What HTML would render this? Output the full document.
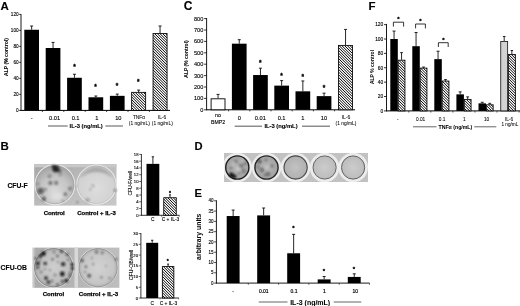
<!DOCTYPE html>
<html><head><meta charset="utf-8"><title>Figure</title>
<style>html,body{margin:0;padding:0;background:#fff}svg{display:block}text{font-family:"Liberation Sans",Arial,sans-serif}</style>
</head><body>
<svg width="520" height="306" viewBox="0 0 520 306">
<defs>
<pattern id="h" width="1.66" height="1.66" patternUnits="userSpaceOnUse" patternTransform="rotate(45)"><rect width="1.66" height="1.66" fill="#fff"/><rect width="1.66" height="0.85" fill="#000"/></pattern>
<filter id="b1" x="-5%" y="-5%" width="110%" height="110%"><feGaussianBlur stdDeviation="0.55"/></filter>
<filter id="b2" x="-5%" y="-5%" width="110%" height="110%"><feGaussianBlur stdDeviation="1.05"/></filter>
<filter id="b3" x="-20%" y="-20%" width="140%" height="140%"><feGaussianBlur stdDeviation="2"/></filter>
<filter id="hs"><feGaussianBlur stdDeviation="0.15"/></filter>
<filter id="soft"><feGaussianBlur stdDeviation="0.28"/></filter>
<linearGradient id="bg1" x1="0" y1="0" x2="1" y2="1"><stop offset="0" stop-color="#a6a6a6"/><stop offset="0.5" stop-color="#bcbcbc"/><stop offset="1" stop-color="#c8c8c8"/></linearGradient>
<linearGradient id="bg2" x1="0" y1="0" x2="1" y2="0"><stop offset="0" stop-color="#dcdcdc"/><stop offset="0.04" stop-color="#acacac"/><stop offset="1" stop-color="#bebebe"/></linearGradient>
<radialGradient id="d1" cx="0.5" cy="0.65" r="0.62"><stop offset="0" stop-color="#d8d8d8"/><stop offset="0.6" stop-color="#c4c4c4"/><stop offset="1" stop-color="#a4a4a4"/></radialGradient>
<radialGradient id="d2" cx="0.5" cy="0.6" r="0.6"><stop offset="0" stop-color="#dddddd"/><stop offset="0.8" stop-color="#d2d2d2"/><stop offset="1" stop-color="#bababa"/></radialGradient>
<radialGradient id="d3" cx="0.5" cy="0.5" r="0.55"><stop offset="0" stop-color="#cecece"/><stop offset="0.75" stop-color="#bebebe"/><stop offset="1" stop-color="#989898"/></radialGradient>
<radialGradient id="d4" cx="0.5" cy="0.5" r="0.55"><stop offset="0" stop-color="#d2d2d2"/><stop offset="0.75" stop-color="#c6c6c6"/><stop offset="1" stop-color="#a6a6a6"/></radialGradient>
<radialGradient id="w1" cx="0.5" cy="0.5" r="0.5"><stop offset="0" stop-color="#b8b8b8"/><stop offset="1" stop-color="#a2a2a2"/></radialGradient>
<radialGradient id="w3" cx="0.5" cy="0.5" r="0.5"><stop offset="0" stop-color="#c2c2c2"/><stop offset="1" stop-color="#b0b0b0"/></radialGradient>
<radialGradient id="w4" cx="0.5" cy="0.5" r="0.5"><stop offset="0" stop-color="#cccccc"/><stop offset="1" stop-color="#bcbcbc"/></radialGradient>
</defs>
<rect width="520" height="306" fill="#fff"/>
<g filter="url(#soft)">
<text x="0.6" y="10.3" font-size="11.5" font-weight="bold" text-anchor="start" fill="#000" stroke="#000" stroke-width="0.12">A</text>
<line x1="21.00" y1="14.10" x2="21.00" y2="110.80" stroke="#000" stroke-width="0.9"/>
<line x1="19.20" y1="110.40" x2="21.00" y2="110.40" stroke="#000" stroke-width="0.8"/>
<text x="18.7" y="112.092" font-size="4.7" text-anchor="end" fill="#000" stroke="#000" stroke-width="0.12">0</text>
<line x1="19.20" y1="94.40" x2="21.00" y2="94.40" stroke="#000" stroke-width="0.8"/>
<text x="18.7" y="96.092" font-size="4.7" text-anchor="end" fill="#000" stroke="#000" stroke-width="0.12">20</text>
<line x1="19.20" y1="78.40" x2="21.00" y2="78.40" stroke="#000" stroke-width="0.8"/>
<text x="18.7" y="80.092" font-size="4.7" text-anchor="end" fill="#000" stroke="#000" stroke-width="0.12">40</text>
<line x1="19.20" y1="62.40" x2="21.00" y2="62.40" stroke="#000" stroke-width="0.8"/>
<text x="18.7" y="64.092" font-size="4.7" text-anchor="end" fill="#000" stroke="#000" stroke-width="0.12">60</text>
<line x1="19.20" y1="46.40" x2="21.00" y2="46.40" stroke="#000" stroke-width="0.8"/>
<text x="18.7" y="48.092000000000006" font-size="4.7" text-anchor="end" fill="#000" stroke="#000" stroke-width="0.12">80</text>
<line x1="19.20" y1="30.40" x2="21.00" y2="30.40" stroke="#000" stroke-width="0.8"/>
<text x="18.7" y="32.092000000000006" font-size="4.7" text-anchor="end" fill="#000" stroke="#000" stroke-width="0.12">100</text>
<line x1="19.20" y1="14.40" x2="21.00" y2="14.40" stroke="#000" stroke-width="0.8"/>
<text x="18.7" y="16.092000000000006" font-size="4.7" text-anchor="end" fill="#000" stroke="#000" stroke-width="0.12">120</text>
<line x1="20.60" y1="110.40" x2="170.00" y2="110.40" stroke="#000" stroke-width="1.0"/>
<text x="7.8" y="57" font-size="5.05" font-weight="bold" text-anchor="middle" transform="rotate(-90 7.8 57)" fill="#000" stroke="#000" stroke-width="0.05">ALP (% control)</text>
<line x1="31.65" y1="29.76" x2="31.65" y2="26.00" stroke="#000" stroke-width="0.85"/>
<line x1="30.15" y1="26.00" x2="33.15" y2="26.00" stroke="#000" stroke-width="0.85"/>
<rect x="24.30" y="29.76" width="14.70" height="80.64" fill="#000"/>
<line x1="53.05" y1="48.00" x2="53.05" y2="42.40" stroke="#000" stroke-width="0.85"/>
<line x1="51.55" y1="42.40" x2="54.55" y2="42.40" stroke="#000" stroke-width="0.85"/>
<rect x="45.70" y="48.00" width="14.70" height="62.40" fill="#000"/>
<line x1="74.45" y1="77.76" x2="74.45" y2="74.24" stroke="#000" stroke-width="0.85"/>
<line x1="72.95" y1="74.24" x2="75.95" y2="74.24" stroke="#000" stroke-width="0.85"/>
<rect x="67.10" y="77.76" width="14.70" height="32.64" fill="#000"/>
<line x1="95.85" y1="97.28" x2="95.85" y2="96.00" stroke="#000" stroke-width="0.85"/>
<line x1="94.35" y1="96.00" x2="97.35" y2="96.00" stroke="#000" stroke-width="0.85"/>
<rect x="88.50" y="97.28" width="14.70" height="13.12" fill="#000"/>
<line x1="117.25" y1="95.84" x2="117.25" y2="94.08" stroke="#000" stroke-width="0.85"/>
<line x1="115.75" y1="94.08" x2="118.75" y2="94.08" stroke="#000" stroke-width="0.85"/>
<rect x="109.90" y="95.84" width="14.70" height="14.56" fill="#000"/>
<line x1="138.65" y1="92.00" x2="138.65" y2="90.08" stroke="#000" stroke-width="0.85"/>
<line x1="137.15" y1="90.08" x2="140.15" y2="90.08" stroke="#000" stroke-width="0.85"/>
<line x1="160.05" y1="33.20" x2="160.05" y2="26.00" stroke="#000" stroke-width="0.85"/>
<line x1="158.55" y1="26.00" x2="161.55" y2="26.00" stroke="#000" stroke-width="0.85"/>
<text x="74.4" y="68.89999999999999" font-size="6.5" font-weight="bold" text-anchor="middle" fill="#000" stroke="#000" stroke-width="0.3">*</text>
<text x="95.6" y="89.3" font-size="6.5" font-weight="bold" text-anchor="middle" fill="#000" stroke="#000" stroke-width="0.3">*</text>
<text x="116.9" y="87.7" font-size="6.5" font-weight="bold" text-anchor="middle" fill="#000" stroke="#000" stroke-width="0.3">*</text>
<text x="138.3" y="84.1" font-size="6.5" font-weight="bold" text-anchor="middle" fill="#000" stroke="#000" stroke-width="0.3">*</text>
<text x="31.8" y="120" font-size="5.7" text-anchor="middle" fill="#000" stroke="#000" stroke-width="0.12">-</text>
<text x="54.6" y="120" font-size="5.7" text-anchor="middle" fill="#000" stroke="#000" stroke-width="0.12">0.01</text>
<text x="75.6" y="120" font-size="5.7" text-anchor="middle" fill="#000" stroke="#000" stroke-width="0.12">0.1</text>
<text x="96.9" y="120" font-size="5.7" text-anchor="middle" fill="#000" stroke="#000" stroke-width="0.12">1</text>
<text x="118.3" y="120" font-size="5.7" text-anchor="middle" fill="#000" stroke="#000" stroke-width="0.12">10</text>
<text x="139" y="119.3" font-size="4.8" text-anchor="middle" fill="#000" stroke="#000" stroke-width="0.05">TNFα</text>
<text x="162" y="119.3" font-size="4.8" text-anchor="middle" fill="#000" stroke="#000" stroke-width="0.05">IL-6</text>
<text x="139.3" y="125.1" font-size="4.9" text-anchor="middle" fill="#000" stroke="#000" stroke-width="0.05">(1 ng/mL)</text>
<text x="162.3" y="125.1" font-size="4.9" text-anchor="middle" fill="#000" stroke="#000" stroke-width="0.05">(1 ng/mL)</text>
<text x="86.2" y="128" font-size="5.8" font-weight="bold" text-anchor="middle" fill="#000" stroke="#000" stroke-width="0.12">IL-3 (ng/mL)</text>
<line x1="48.00" y1="126.00" x2="67.70" y2="126.00" stroke="#666" stroke-width="1.1"/>
<line x1="105.40" y1="126.00" x2="122.90" y2="126.00" stroke="#666" stroke-width="1.1"/>
<text x="183.8" y="10.4" font-size="12" font-weight="bold" text-anchor="start" fill="#000" stroke="#000" stroke-width="0.12">C</text>
<line x1="206.60" y1="18.00" x2="206.60" y2="110.20" stroke="#000" stroke-width="0.9"/>
<line x1="204.10" y1="109.80" x2="206.60" y2="109.80" stroke="#000" stroke-width="0.8"/>
<text x="203.29999999999998" y="111.816" font-size="5.6" text-anchor="end" fill="#000" stroke="#000" stroke-width="0.12">0</text>
<line x1="204.10" y1="98.40" x2="206.60" y2="98.40" stroke="#000" stroke-width="0.8"/>
<text x="203.29999999999998" y="100.416" font-size="5.6" text-anchor="end" fill="#000" stroke="#000" stroke-width="0.12">100</text>
<line x1="204.10" y1="87.00" x2="206.60" y2="87.00" stroke="#000" stroke-width="0.8"/>
<text x="203.29999999999998" y="89.016" font-size="5.6" text-anchor="end" fill="#000" stroke="#000" stroke-width="0.12">200</text>
<line x1="204.10" y1="75.60" x2="206.60" y2="75.60" stroke="#000" stroke-width="0.8"/>
<text x="203.29999999999998" y="77.616" font-size="5.6" text-anchor="end" fill="#000" stroke="#000" stroke-width="0.12">300</text>
<line x1="204.10" y1="64.20" x2="206.60" y2="64.20" stroke="#000" stroke-width="0.8"/>
<text x="203.29999999999998" y="66.216" font-size="5.6" text-anchor="end" fill="#000" stroke="#000" stroke-width="0.12">400</text>
<line x1="204.10" y1="52.80" x2="206.60" y2="52.80" stroke="#000" stroke-width="0.8"/>
<text x="203.29999999999998" y="54.815999999999995" font-size="5.6" text-anchor="end" fill="#000" stroke="#000" stroke-width="0.12">500</text>
<line x1="204.10" y1="41.40" x2="206.60" y2="41.40" stroke="#000" stroke-width="0.8"/>
<text x="203.29999999999998" y="43.41599999999999" font-size="5.6" text-anchor="end" fill="#000" stroke="#000" stroke-width="0.12">600</text>
<line x1="204.10" y1="30.00" x2="206.60" y2="30.00" stroke="#000" stroke-width="0.8"/>
<text x="203.29999999999998" y="32.016" font-size="5.6" text-anchor="end" fill="#000" stroke="#000" stroke-width="0.12">700</text>
<line x1="204.10" y1="18.60" x2="206.60" y2="18.60" stroke="#000" stroke-width="0.8"/>
<text x="203.29999999999998" y="20.615999999999993" font-size="5.6" text-anchor="end" fill="#000" stroke="#000" stroke-width="0.12">800</text>
<line x1="206.20" y1="109.80" x2="355.00" y2="109.80" stroke="#000" stroke-width="1.0"/>
<text x="188" y="59" font-size="5.0" font-weight="bold" text-anchor="middle" transform="rotate(-90 188 59)" fill="#000" stroke="#000" stroke-width="0.05">ALP (% control)</text>
<line x1="218.05" y1="98.40" x2="218.05" y2="94.41" stroke="#000" stroke-width="0.85"/>
<line x1="216.55" y1="94.41" x2="219.55" y2="94.41" stroke="#000" stroke-width="0.85"/>
<rect x="211.10" y="98.80" width="13.90" height="11.00" fill="#fff" stroke="#000" stroke-width="0.9"/>
<line x1="239.25" y1="43.68" x2="239.25" y2="39.69" stroke="#000" stroke-width="0.85"/>
<line x1="237.75" y1="39.69" x2="240.75" y2="39.69" stroke="#000" stroke-width="0.85"/>
<rect x="231.90" y="43.68" width="14.70" height="66.12" fill="#000"/>
<line x1="260.45" y1="75.03" x2="260.45" y2="68.19" stroke="#000" stroke-width="0.85"/>
<line x1="258.95" y1="68.19" x2="261.95" y2="68.19" stroke="#000" stroke-width="0.85"/>
<rect x="253.10" y="75.03" width="14.70" height="34.77" fill="#000"/>
<line x1="281.65" y1="85.63" x2="281.65" y2="80.62" stroke="#000" stroke-width="0.85"/>
<line x1="280.15" y1="80.62" x2="283.15" y2="80.62" stroke="#000" stroke-width="0.85"/>
<rect x="274.30" y="85.63" width="14.70" height="24.17" fill="#000"/>
<line x1="302.85" y1="91.33" x2="302.85" y2="80.96" stroke="#000" stroke-width="0.85"/>
<line x1="301.35" y1="80.96" x2="304.35" y2="80.96" stroke="#000" stroke-width="0.85"/>
<rect x="295.50" y="91.33" width="14.70" height="18.47" fill="#000"/>
<line x1="324.05" y1="96.12" x2="324.05" y2="93.16" stroke="#000" stroke-width="0.85"/>
<line x1="322.55" y1="93.16" x2="325.55" y2="93.16" stroke="#000" stroke-width="0.85"/>
<rect x="316.70" y="96.12" width="14.70" height="13.68" fill="#000"/>
<line x1="345.55" y1="45.05" x2="345.55" y2="29.43" stroke="#000" stroke-width="0.85"/>
<line x1="344.05" y1="29.43" x2="347.05" y2="29.43" stroke="#000" stroke-width="0.85"/>
<text x="260.2" y="64.7" font-size="6.5" font-weight="bold" text-anchor="middle" fill="#000" stroke="#000" stroke-width="0.3">*</text>
<text x="281.6" y="77.6" font-size="6.5" font-weight="bold" text-anchor="middle" fill="#000" stroke="#000" stroke-width="0.3">*</text>
<text x="302.8" y="79.2" font-size="6.5" font-weight="bold" text-anchor="middle" fill="#000" stroke="#000" stroke-width="0.3">*</text>
<text x="324" y="90.39999999999999" font-size="6.5" font-weight="bold" text-anchor="middle" fill="#000" stroke="#000" stroke-width="0.3">*</text>
<text x="218" y="117.4" font-size="5.2" text-anchor="middle" fill="#000" stroke="#000" stroke-width="0.12">no</text>
<text x="218" y="123.6" font-size="5.2" text-anchor="middle" fill="#000" stroke="#000" stroke-width="0.12">BMP2</text>
<text x="239.3" y="120" font-size="5.7" text-anchor="middle" fill="#000" stroke="#000" stroke-width="0.12">0</text>
<text x="260.4" y="120" font-size="5.7" text-anchor="middle" fill="#000" stroke="#000" stroke-width="0.12">0.01</text>
<text x="281.6" y="120" font-size="5.7" text-anchor="middle" fill="#000" stroke="#000" stroke-width="0.12">0.1</text>
<text x="302.8" y="120" font-size="5.7" text-anchor="middle" fill="#000" stroke="#000" stroke-width="0.12">1</text>
<text x="324" y="120" font-size="5.7" text-anchor="middle" fill="#000" stroke="#000" stroke-width="0.12">10</text>
<text x="346" y="119.0" font-size="5.0" text-anchor="middle" fill="#000" stroke="#000" stroke-width="0.05">IL-6</text>
<text x="346" y="124.9" font-size="4.9" text-anchor="middle" fill="#000" stroke="#000" stroke-width="0.05">(1 ng/mL)</text>
<text x="281" y="128.2" font-size="5.8" font-weight="bold" text-anchor="middle" fill="#000" stroke="#000" stroke-width="0.12">IL-3 (ng/mL)</text>
<line x1="234.70" y1="126.20" x2="262.00" y2="126.20" stroke="#666" stroke-width="1.1"/>
<line x1="302.00" y1="126.20" x2="330.00" y2="126.20" stroke="#666" stroke-width="1.1"/>
<text x="368.4" y="10.3" font-size="11.5" font-weight="bold" text-anchor="start" fill="#000" stroke="#000" stroke-width="0.12">F</text>
<line x1="386.50" y1="23.90" x2="386.50" y2="111.30" stroke="#000" stroke-width="0.9"/>
<line x1="384.00" y1="110.90" x2="386.50" y2="110.90" stroke="#000" stroke-width="0.8"/>
<text x="383.3" y="112.664" font-size="4.9" text-anchor="end" fill="#000" stroke="#000" stroke-width="0.12">0</text>
<line x1="384.00" y1="96.52" x2="386.50" y2="96.52" stroke="#000" stroke-width="0.8"/>
<text x="383.3" y="98.284" font-size="4.9" text-anchor="end" fill="#000" stroke="#000" stroke-width="0.12">20</text>
<line x1="384.00" y1="82.14" x2="386.50" y2="82.14" stroke="#000" stroke-width="0.8"/>
<text x="383.3" y="83.904" font-size="4.9" text-anchor="end" fill="#000" stroke="#000" stroke-width="0.12">40</text>
<line x1="384.00" y1="67.76" x2="386.50" y2="67.76" stroke="#000" stroke-width="0.8"/>
<text x="383.3" y="69.52399999999999" font-size="4.9" text-anchor="end" fill="#000" stroke="#000" stroke-width="0.12">60</text>
<line x1="384.00" y1="53.38" x2="386.50" y2="53.38" stroke="#000" stroke-width="0.8"/>
<text x="383.3" y="55.144" font-size="4.9" text-anchor="end" fill="#000" stroke="#000" stroke-width="0.12">80</text>
<line x1="384.00" y1="39.00" x2="386.50" y2="39.00" stroke="#000" stroke-width="0.8"/>
<text x="383.3" y="40.764" font-size="4.9" text-anchor="end" fill="#000" stroke="#000" stroke-width="0.12">100</text>
<line x1="384.00" y1="24.62" x2="386.50" y2="24.62" stroke="#000" stroke-width="0.8"/>
<text x="383.3" y="26.38399999999999" font-size="4.9" text-anchor="end" fill="#000" stroke="#000" stroke-width="0.12">120</text>
<line x1="386.10" y1="110.90" x2="520.00" y2="110.90" stroke="#000" stroke-width="1.0"/>
<text x="374" y="67" font-size="5.0" font-weight="bold" text-anchor="middle" transform="rotate(-90 374 67)" fill="#000">ALP % control</text>
<line x1="394.05" y1="39.00" x2="394.05" y2="31.09" stroke="#000" stroke-width="0.85"/>
<line x1="392.55" y1="31.09" x2="395.55" y2="31.09" stroke="#000" stroke-width="0.85"/>
<rect x="390.30" y="39.00" width="7.50" height="71.90" fill="#000"/>
<line x1="401.55" y1="59.85" x2="401.55" y2="52.66" stroke="#000" stroke-width="0.85"/>
<line x1="400.15" y1="52.66" x2="402.95" y2="52.66" stroke="#000" stroke-width="0.85"/>
<line x1="416.05" y1="46.19" x2="416.05" y2="32.53" stroke="#000" stroke-width="0.85"/>
<line x1="414.55" y1="32.53" x2="417.55" y2="32.53" stroke="#000" stroke-width="0.85"/>
<rect x="412.30" y="46.19" width="7.50" height="64.71" fill="#000"/>
<line x1="423.55" y1="67.76" x2="423.55" y2="67.04" stroke="#000" stroke-width="0.85"/>
<line x1="422.15" y1="67.04" x2="424.95" y2="67.04" stroke="#000" stroke-width="0.85"/>
<line x1="438.05" y1="59.13" x2="438.05" y2="51.22" stroke="#000" stroke-width="0.85"/>
<line x1="436.55" y1="51.22" x2="439.55" y2="51.22" stroke="#000" stroke-width="0.85"/>
<rect x="434.30" y="59.13" width="7.50" height="51.77" fill="#000"/>
<line x1="445.55" y1="80.70" x2="445.55" y2="79.62" stroke="#000" stroke-width="0.85"/>
<line x1="444.15" y1="79.62" x2="446.95" y2="79.62" stroke="#000" stroke-width="0.85"/>
<line x1="460.15" y1="94.36" x2="460.15" y2="91.85" stroke="#000" stroke-width="0.85"/>
<line x1="458.65" y1="91.85" x2="461.65" y2="91.85" stroke="#000" stroke-width="0.85"/>
<rect x="456.40" y="94.36" width="7.50" height="16.54" fill="#000"/>
<line x1="467.65" y1="99.04" x2="467.65" y2="96.88" stroke="#000" stroke-width="0.85"/>
<line x1="466.25" y1="96.88" x2="469.05" y2="96.88" stroke="#000" stroke-width="0.85"/>
<line x1="482.25" y1="103.35" x2="482.25" y2="102.27" stroke="#000" stroke-width="0.85"/>
<line x1="480.75" y1="102.27" x2="483.75" y2="102.27" stroke="#000" stroke-width="0.85"/>
<rect x="478.50" y="103.35" width="7.50" height="7.55" fill="#000"/>
<line x1="489.75" y1="104.43" x2="489.75" y2="103.35" stroke="#000" stroke-width="0.85"/>
<line x1="488.35" y1="103.35" x2="491.15" y2="103.35" stroke="#000" stroke-width="0.85"/>
<line x1="504.20" y1="41.16" x2="504.20" y2="36.48" stroke="#000" stroke-width="0.85"/>
<line x1="502.90" y1="36.48" x2="505.50" y2="36.48" stroke="#000" stroke-width="0.85"/>
<rect x="500.75" y="41.51" width="6.90" height="69.39" fill="#d2d2d2" stroke="#111" stroke-width="0.8"/>
<line x1="511.85" y1="54.10" x2="511.85" y2="50.50" stroke="#000" stroke-width="0.85"/>
<line x1="510.65" y1="50.50" x2="513.05" y2="50.50" stroke="#000" stroke-width="0.85"/>
<path d="M393.4 26.6V22.2H403.6V26.6" fill="none" stroke="#000" stroke-width="0.8"/>
<text x="398.5" y="21.2" font-size="6" font-weight="bold" text-anchor="middle" fill="#000" stroke="#000" stroke-width="0.3">*</text>
<path d="M415.6 28.4V24H425.4V28.4" fill="none" stroke="#000" stroke-width="0.8"/>
<text x="420.5" y="23.400000000000002" font-size="6" font-weight="bold" text-anchor="middle" fill="#000" stroke="#000" stroke-width="0.3">*</text>
<path d="M438.4 47V42.7H448.2V47" fill="none" stroke="#000" stroke-width="0.8"/>
<text x="443.3" y="41.99999999999999" font-size="6" font-weight="bold" text-anchor="middle" fill="#000" stroke="#000" stroke-width="0.3">*</text>
<text x="397.8" y="120.8" font-size="4.8" text-anchor="middle" fill="#000" stroke="#000" stroke-width="0.06">-</text>
<text x="420.6" y="120.8" font-size="4.8" text-anchor="middle" fill="#000" stroke="#000" stroke-width="0.06">0.01</text>
<text x="442.2" y="120.8" font-size="4.8" text-anchor="middle" fill="#000" stroke="#000" stroke-width="0.06">0.1</text>
<text x="464.4" y="120.8" font-size="4.8" text-anchor="middle" fill="#000" stroke="#000" stroke-width="0.06">1</text>
<text x="486.6" y="120.8" font-size="4.8" text-anchor="middle" fill="#000" stroke="#000" stroke-width="0.06">10</text>
<text x="509" y="120.6" font-size="4.8" text-anchor="middle" fill="#000" stroke="#000" stroke-width="0.05">IL-6</text>
<text x="509.9" y="125.6" font-size="4.7" text-anchor="middle" fill="#000" stroke="#000" stroke-width="0.05">1 ng/mL</text>
<text x="455.4" y="128.5" font-size="5.2" font-weight="bold" text-anchor="middle" fill="#000" stroke="#000" stroke-width="0.05">TNFα  (ng/mL)</text>
<line x1="413.00" y1="126.80" x2="436.50" y2="126.80" stroke="#555" stroke-width="0.9"/>
<line x1="474.20" y1="126.80" x2="496.30" y2="126.80" stroke="#555" stroke-width="0.9"/>
<text x="0.4" y="149.5" font-size="11.5" font-weight="bold" text-anchor="start" fill="#000" stroke="#000" stroke-width="0.12">B</text>
<text x="7.4" y="188" font-size="6.8" font-weight="bold" text-anchor="start" fill="#000" stroke="#000" stroke-width="0.12">CFU-F</text>
<text x="0.6" y="269.8" font-size="6.8" font-weight="bold" text-anchor="start" fill="#000" stroke="#000" stroke-width="0.12">CFU-OB</text>
<text x="54.2" y="214.7" font-size="5.95" font-weight="bold" text-anchor="middle" fill="#000" stroke="#000" stroke-width="0.25">Control</text>
<text x="96.5" y="214.7" font-size="5.95" font-weight="bold" text-anchor="middle" fill="#000" stroke="#000" stroke-width="0.25">Control + IL-3</text>
<text x="53.4" y="295.9" font-size="6.0" font-weight="bold" text-anchor="middle" fill="#000" stroke="#000" stroke-width="0.25">Control</text>
<text x="98.5" y="295.9" font-size="6.1" font-weight="bold" text-anchor="middle" fill="#000" stroke="#000" stroke-width="0.25">Control + IL-3</text>
<g filter="url(#b1)">
<rect x="34.20" y="164.20" width="82.30" height="41.40" fill="url(#bg1)"/>
<rect x="34.20" y="164.30" width="82.30" height="3.00" fill="#c8c8c8"/>
<circle cx="54.9" cy="184.7" r="20.4" fill="#eeeeee"/><circle cx="54.9" cy="184.7" r="19.1" fill="url(#d1)" stroke="#989898" stroke-width="0.7"/>
<circle cx="96.5" cy="184.7" r="20.1" fill="#eeeeee"/><circle cx="96.5" cy="184.7" r="18.9" fill="url(#d2)" stroke="#b4b4b4" stroke-width="0.6"/>
<path d="M80.5 178 A17.5 17.5 0 0 1 112.5 178 A24 24 0 0 0 80.5 178Z" fill="#9c9c9c" opacity="0.75" filter="url(#b2)"/>
</g>
<g filter="url(#b2)">
<circle cx="55.8" cy="168.8" r="3.4" fill="#1c1c1c" opacity="0.95"/>
<circle cx="53.6" cy="166.8" r="2" fill="#1c1c1c" opacity="0.8"/>
<circle cx="59.5" cy="171" r="2" fill="#1c1c1c" opacity="0.5"/>
<circle cx="40.6" cy="191" r="3.2" fill="#1c1c1c" opacity="0.6"/>
<circle cx="43.9" cy="198.9" r="2.4" fill="#1c1c1c" opacity="0.55"/>
<circle cx="50.4" cy="182.9" r="2" fill="#1c1c1c" opacity="0.55"/>
<circle cx="56.1" cy="182.9" r="2" fill="#1c1c1c" opacity="0.5"/>
<circle cx="49.6" cy="176.3" r="1.8" fill="#1c1c1c" opacity="0.4"/>
<circle cx="65.1" cy="194.3" r="2.1" fill="#1c1c1c" opacity="0.5"/>
<circle cx="70" cy="188.6" r="1.9" fill="#1c1c1c" opacity="0.45"/>
<circle cx="60.2" cy="174.7" r="1.5" fill="#1c1c1c" opacity="0.3"/>
<circle cx="62.7" cy="200.5" r="1.5" fill="#1c1c1c" opacity="0.3"/>
<circle cx="45.5" cy="189.4" r="1.5" fill="#1c1c1c" opacity="0.4"/>
<circle cx="38" cy="184" r="1.5" fill="#1c1c1c" opacity="0.3"/>
<circle cx="92.9" cy="185.8" r="1.4" fill="#1c1c1c" opacity="0.3"/>
<circle cx="90.3" cy="189.4" r="1.2" fill="#1c1c1c" opacity="0.25"/>
<circle cx="87.5" cy="200" r="2" fill="#1c1c1c" opacity="0.3"/>
<circle cx="115.3" cy="190.2" r="1.3" fill="#1c1c1c" opacity="0.6"/>
<circle cx="77.4" cy="202.2" r="0.8" fill="#1c1c1c" opacity="0.8"/>
<circle cx="76" cy="186" r="0.8" fill="#1c1c1c" opacity="0.5"/>
<ellipse cx="57" cy="197" rx="7" ry="4" fill="#f4f4f4" opacity="0.5" filter="url(#b3)"/>
</g>
<g filter="url(#b1)">
<rect x="32.20" y="247.60" width="87.20" height="40.20" fill="url(#bg2)"/>
<rect x="74.50" y="247.60" width="3.50" height="40.20" fill="#d8d8d8"/>
<circle cx="53.7" cy="267.7" r="20.2" fill="#e6e6e6"/><circle cx="53.7" cy="267.7" r="19.2" fill="url(#d3)" stroke="#808080" stroke-width="0.9"/>
<circle cx="98.1" cy="267.7" r="20.0" fill="#e4e4e4"/><circle cx="98.1" cy="267.7" r="19.1" fill="url(#d4)" stroke="#909090" stroke-width="0.9"/>
</g>
<g filter="url(#b2)">
<circle cx="43.5" cy="253.6" r="2.3" fill="#101010" opacity="1.00"/>
<circle cx="40.3" cy="256" r="1.8" fill="#101010" opacity="0.94"/>
<circle cx="37.8" cy="263.4" r="1.9" fill="#101010" opacity="0.94"/>
<circle cx="37.8" cy="267.5" r="1.5" fill="#101010" opacity="0.75"/>
<circle cx="45.2" cy="263.4" r="1.7" fill="#101010" opacity="0.88"/>
<circle cx="61.5" cy="251.2" r="1.5" fill="#101010" opacity="0.81"/>
<circle cx="67.2" cy="254.4" r="1.4" fill="#101010" opacity="0.62"/>
<circle cx="63.1" cy="264.2" r="2.1" fill="#101010" opacity="0.88"/>
<circle cx="72.1" cy="264.5" r="1.5" fill="#101010" opacity="1.00"/>
<circle cx="72.3" cy="268.5" r="1.4" fill="#101010" opacity="1.00"/>
<circle cx="62.3" cy="274" r="2.4" fill="#101010" opacity="0.94"/>
<circle cx="66.4" cy="280.6" r="1.8" fill="#101010" opacity="1.00"/>
<circle cx="62.3" cy="281.4" r="1.4" fill="#101010" opacity="0.75"/>
<circle cx="46" cy="278.1" r="1.8" fill="#101010" opacity="0.94"/>
<circle cx="48.4" cy="282.2" r="1.6" fill="#101010" opacity="0.94"/>
<circle cx="52.5" cy="259.3" r="1.2" fill="#101010" opacity="0.50"/>
<circle cx="57.4" cy="256" r="1.3" fill="#101010" opacity="0.56"/>
<circle cx="55" cy="275" r="1.3" fill="#101010" opacity="0.44"/>
<circle cx="35.8" cy="258.5" r="1.2" fill="#101010" opacity="0.75"/>
<circle cx="69.5" cy="276" r="1.2" fill="#101010" opacity="0.62"/>
<circle cx="57.5" cy="284.5" r="1.2" fill="#101010" opacity="0.62"/>
<circle cx="50" cy="270" r="1" fill="#101010" opacity="0.38"/>
<circle cx="41" cy="272" r="1.2" fill="#101010" opacity="0.50"/>
<circle cx="58" cy="262" r="1.0" fill="#101010" opacity="0.38"/>
<circle cx="68" cy="260" r="1.1" fill="#101010" opacity="0.50"/>
<circle cx="54" cy="252" r="1.2" fill="#101010" opacity="0.50"/>
<circle cx="40" cy="260" r="1.0" fill="#101010" opacity="0.62"/>
<circle cx="52" cy="281" r="1.2" fill="#101010" opacity="0.56"/>
<circle cx="70" cy="273" r="1.2" fill="#101010" opacity="0.62"/>
<circle cx="45" cy="269" r="1.0" fill="#101010" opacity="0.38"/>
<circle cx="82.1" cy="260.6" r="1.5" fill="#101010" opacity="0.75"/>
<circle cx="85.9" cy="266.7" r="1.2" fill="#101010" opacity="0.56"/>
<circle cx="89.2" cy="275.7" r="1.7" fill="#101010" opacity="0.75"/>
<circle cx="93.2" cy="264.2" r="1.1" fill="#101010" opacity="0.38"/>
<circle cx="96.5" cy="252" r="1.7" fill="#101010" opacity="0.50"/>
<circle cx="102.2" cy="252.8" r="1.5" fill="#101010" opacity="0.44"/>
<circle cx="85" cy="272" r="1.0" fill="#101010" opacity="0.44"/>
<circle cx="101.4" cy="277.3" r="1.2" fill="#101010" opacity="0.38"/>
<circle cx="109.6" cy="278.1" r="1.2" fill="#101010" opacity="0.38"/>
<circle cx="116.1" cy="259.3" r="1.0" fill="#101010" opacity="0.88"/>
<circle cx="92" cy="258" r="1" fill="#101010" opacity="0.38"/>
<circle cx="106" cy="266" r="0.9" fill="#101010" opacity="0.31"/>
</g>
<line x1="141.40" y1="154.00" x2="141.40" y2="215.60" stroke="#000" stroke-width="0.8"/>
<line x1="141.10" y1="215.30" x2="179.50" y2="215.30" stroke="#000" stroke-width="0.8"/>
<line x1="139.20" y1="215.30" x2="141.40" y2="215.30" stroke="#000" stroke-width="0.6"/>
<text x="138.5" y="216.8" font-size="4.2" text-anchor="end" fill="#000" stroke="#000" stroke-width="0.12">0</text>
<line x1="139.20" y1="208.53" x2="141.40" y2="208.53" stroke="#000" stroke-width="0.6"/>
<text x="138.5" y="210.03333333333333" font-size="4.2" text-anchor="end" fill="#000" stroke="#000" stroke-width="0.12">2</text>
<line x1="139.20" y1="201.77" x2="141.40" y2="201.77" stroke="#000" stroke-width="0.6"/>
<text x="138.5" y="203.26666666666668" font-size="4.2" text-anchor="end" fill="#000" stroke="#000" stroke-width="0.12">4</text>
<line x1="139.20" y1="195.00" x2="141.40" y2="195.00" stroke="#000" stroke-width="0.6"/>
<text x="138.5" y="196.5" font-size="4.2" text-anchor="end" fill="#000" stroke="#000" stroke-width="0.12">6</text>
<line x1="139.20" y1="188.23" x2="141.40" y2="188.23" stroke="#000" stroke-width="0.6"/>
<text x="138.5" y="189.73333333333335" font-size="4.2" text-anchor="end" fill="#000" stroke="#000" stroke-width="0.12">8</text>
<line x1="139.20" y1="181.47" x2="141.40" y2="181.47" stroke="#000" stroke-width="0.6"/>
<text x="138.5" y="182.96666666666667" font-size="4.2" text-anchor="end" fill="#000" stroke="#000" stroke-width="0.12">10</text>
<line x1="139.20" y1="174.70" x2="141.40" y2="174.70" stroke="#000" stroke-width="0.6"/>
<text x="138.5" y="176.20000000000002" font-size="4.2" text-anchor="end" fill="#000" stroke="#000" stroke-width="0.12">12</text>
<line x1="139.20" y1="167.93" x2="141.40" y2="167.93" stroke="#000" stroke-width="0.6"/>
<text x="138.5" y="169.43333333333334" font-size="4.2" text-anchor="end" fill="#000" stroke="#000" stroke-width="0.12">14</text>
<line x1="139.20" y1="161.17" x2="141.40" y2="161.17" stroke="#000" stroke-width="0.6"/>
<text x="138.5" y="162.66666666666669" font-size="4.2" text-anchor="end" fill="#000" stroke="#000" stroke-width="0.12">16</text>
<line x1="139.20" y1="154.40" x2="141.40" y2="154.40" stroke="#000" stroke-width="0.6"/>
<text x="138.5" y="155.9" font-size="4.2" text-anchor="end" fill="#000" stroke="#000" stroke-width="0.12">18</text>
<text x="132.2" y="183.2" font-size="4.9" text-anchor="middle" transform="rotate(-90 132.2 183.2)" fill="#000" stroke="#000" stroke-width="0.12">CFU-F/well</text>
<line x1="152.90" y1="163.87" x2="152.90" y2="156.77" stroke="#000" stroke-width="0.85"/>
<line x1="151.70" y1="156.77" x2="154.10" y2="156.77" stroke="#000" stroke-width="0.85"/>
<rect x="146.50" y="163.87" width="12.80" height="51.43" fill="#000"/>
<line x1="170.00" y1="197.37" x2="170.00" y2="194.83" stroke="#000" stroke-width="0.85"/>
<line x1="169.00" y1="194.83" x2="171.00" y2="194.83" stroke="#000" stroke-width="0.85"/>
<text x="170.1" y="195.4" font-size="5" font-weight="bold" text-anchor="middle" fill="#000" stroke="#000" stroke-width="0.3">*</text>
<text x="152.7" y="221.1" font-size="4.9" text-anchor="middle" fill="#000" stroke="#000" stroke-width="0.12">C</text>
<text x="170.5" y="221.1" font-size="4.9" text-anchor="middle" fill="#000" stroke="#000" stroke-width="0.12">C + IL-3</text>
<line x1="140.90" y1="233.00" x2="140.90" y2="298.30" stroke="#000" stroke-width="0.8"/>
<line x1="140.60" y1="298.00" x2="178.80" y2="298.00" stroke="#000" stroke-width="0.8"/>
<line x1="138.70" y1="298.00" x2="140.90" y2="298.00" stroke="#000" stroke-width="0.6"/>
<text x="138.0" y="299.5" font-size="4.2" text-anchor="end" fill="#000" stroke="#000" stroke-width="0.12">0</text>
<line x1="138.70" y1="287.27" x2="140.90" y2="287.27" stroke="#000" stroke-width="0.6"/>
<text x="138.0" y="288.76666666666665" font-size="4.2" text-anchor="end" fill="#000" stroke="#000" stroke-width="0.12">5</text>
<line x1="138.70" y1="276.53" x2="140.90" y2="276.53" stroke="#000" stroke-width="0.6"/>
<text x="138.0" y="278.0333333333333" font-size="4.2" text-anchor="end" fill="#000" stroke="#000" stroke-width="0.12">10</text>
<line x1="138.70" y1="265.80" x2="140.90" y2="265.80" stroke="#000" stroke-width="0.6"/>
<text x="138.0" y="267.3" font-size="4.2" text-anchor="end" fill="#000" stroke="#000" stroke-width="0.12">15</text>
<line x1="138.70" y1="255.07" x2="140.90" y2="255.07" stroke="#000" stroke-width="0.6"/>
<text x="138.0" y="256.56666666666666" font-size="4.2" text-anchor="end" fill="#000" stroke="#000" stroke-width="0.12">20</text>
<line x1="138.70" y1="244.33" x2="140.90" y2="244.33" stroke="#000" stroke-width="0.6"/>
<text x="138.0" y="245.83333333333331" font-size="4.2" text-anchor="end" fill="#000" stroke="#000" stroke-width="0.12">25</text>
<line x1="138.70" y1="233.60" x2="140.90" y2="233.60" stroke="#000" stroke-width="0.6"/>
<text x="138.0" y="235.1" font-size="4.2" text-anchor="end" fill="#000" stroke="#000" stroke-width="0.12">30</text>
<text x="132.5" y="265" font-size="5.2" text-anchor="middle" transform="rotate(-90 132.5 265)" fill="#000" stroke="#000" stroke-width="0.12">CFU-OB/well</text>
<line x1="152.20" y1="242.83" x2="152.20" y2="240.25" stroke="#000" stroke-width="0.85"/>
<line x1="151.00" y1="240.25" x2="153.40" y2="240.25" stroke="#000" stroke-width="0.85"/>
<rect x="146.20" y="242.83" width="12.00" height="55.17" fill="#000"/>
<line x1="168.10" y1="266.23" x2="168.10" y2="264.08" stroke="#000" stroke-width="0.85"/>
<line x1="167.10" y1="264.08" x2="169.10" y2="264.08" stroke="#000" stroke-width="0.85"/>
<text x="167.8" y="263.2" font-size="5" font-weight="bold" text-anchor="middle" fill="#000" stroke="#000" stroke-width="0.3">*</text>
<text x="152.2" y="304.8" font-size="4.9" text-anchor="middle" fill="#000" stroke="#000" stroke-width="0.12">C</text>
<text x="168.4" y="304.8" font-size="4.9" text-anchor="middle" fill="#000" stroke="#000" stroke-width="0.12">C + IL-3</text>
<text x="194.4" y="149.5" font-size="11.2" font-weight="bold" text-anchor="start" fill="#000" stroke="#000" stroke-width="0.12">D</text>
<g filter="url(#b1)">
<clipPath id="cd"><rect x="223.9" y="153" width="144.1" height="29"/></clipPath><g clip-path="url(#cd)">
<rect x="223.90" y="153.00" width="144.10" height="29.00" fill="#c2c2c2"/>
<circle cx="237.3" cy="167.5" r="14.8" fill="#ececec"/>
<circle cx="266.5" cy="167.5" r="14.8" fill="#ececec"/>
<circle cx="295.6" cy="167.5" r="14.8" fill="#ececec"/>
<circle cx="324.6" cy="167.5" r="14.8" fill="#ececec"/>
<circle cx="353.1" cy="167.5" r="14.8" fill="#ececec"/>
<circle cx="237.3" cy="167.5" r="11.6" fill="url(#w1)" stroke="#1e1e1e" stroke-width="1.4"/>
<circle cx="266.5" cy="167.5" r="11.6" fill="url(#w1)" stroke="#262626" stroke-width="1.4"/>
<circle cx="295.6" cy="167.5" r="11.6" fill="url(#w3)" stroke="#444" stroke-width="1.1"/>
<circle cx="324.6" cy="167.5" r="11.6" fill="url(#w4)" stroke="#666" stroke-width="1.0"/>
<circle cx="353.1" cy="167.5" r="11.6" fill="url(#w4)" stroke="#606060" stroke-width="1.0"/>
</g></g>
<g filter="url(#b2)">
<circle cx="231.3" cy="174.8" r="2.3" fill="#111" opacity="1"/>
<circle cx="234.3" cy="176.6" r="2.0" fill="#111" opacity="1"/>
<circle cx="232.5" cy="176" r="1.8" fill="#111" opacity="1"/>
<circle cx="241" cy="166" r="2.3" fill="#111" opacity="0.35"/>
<circle cx="243.5" cy="171" r="2.0" fill="#111" opacity="0.35"/>
<circle cx="236" cy="161.5" r="1.8" fill="#111" opacity="0.3"/>
<circle cx="245" cy="163.5" r="1.5" fill="#111" opacity="0.3"/>
<circle cx="231" cy="168" r="1.5" fill="#111" opacity="0.3"/>
<circle cx="239" cy="173" r="1.3" fill="#111" opacity="0.3"/>
<circle cx="259.5" cy="161.5" r="2.0" fill="#111" opacity="0.55"/>
<circle cx="262" cy="170" r="2.2" fill="#111" opacity="0.4"/>
<circle cx="268" cy="174" r="2.0" fill="#111" opacity="0.45"/>
<circle cx="272" cy="166" r="1.8" fill="#111" opacity="0.3"/>
<circle cx="258" cy="167" r="1.4" fill="#111" opacity="0.4"/>
<circle cx="266" cy="160" r="1.5" fill="#111" opacity="0.3"/>
<circle cx="265" cy="175" r="1.2" fill="#111" opacity="0.4"/>
<circle cx="238" cy="169" r="1.6" fill="#eee" opacity="0.5"/>
<circle cx="242" cy="160" r="1.2" fill="#eee" opacity="0.4"/>
<circle cx="267" cy="167" r="1.5" fill="#eee" opacity="0.35"/>
<circle cx="233" cy="164" r="1.2" fill="#eee" opacity="0.4"/>
</g>
<text x="194.4" y="196.5" font-size="11.2" font-weight="bold" text-anchor="start" fill="#000" stroke="#000" stroke-width="0.12">E</text>
<line x1="216.40" y1="200.30" x2="216.40" y2="283.50" stroke="#000" stroke-width="0.9"/>
<line x1="216.10" y1="283.10" x2="369.60" y2="283.10" stroke="#000" stroke-width="0.9"/>
<line x1="214.10" y1="283.10" x2="216.40" y2="283.10" stroke="#000" stroke-width="0.7"/>
<text x="213.4" y="284.70000000000005" font-size="4.5" text-anchor="end" fill="#000" stroke="#000" stroke-width="0.12">0</text>
<line x1="214.10" y1="272.81" x2="216.40" y2="272.81" stroke="#000" stroke-width="0.7"/>
<text x="213.4" y="274.4125" font-size="4.5" text-anchor="end" fill="#000" stroke="#000" stroke-width="0.12">5</text>
<line x1="214.10" y1="262.53" x2="216.40" y2="262.53" stroke="#000" stroke-width="0.7"/>
<text x="213.4" y="264.12500000000006" font-size="4.5" text-anchor="end" fill="#000" stroke="#000" stroke-width="0.12">10</text>
<line x1="214.10" y1="252.24" x2="216.40" y2="252.24" stroke="#000" stroke-width="0.7"/>
<text x="213.4" y="253.8375" font-size="4.5" text-anchor="end" fill="#000" stroke="#000" stroke-width="0.12">15</text>
<line x1="214.10" y1="241.95" x2="216.40" y2="241.95" stroke="#000" stroke-width="0.7"/>
<text x="213.4" y="243.55" font-size="4.5" text-anchor="end" fill="#000" stroke="#000" stroke-width="0.12">20</text>
<line x1="214.10" y1="231.66" x2="216.40" y2="231.66" stroke="#000" stroke-width="0.7"/>
<text x="213.4" y="233.26250000000002" font-size="4.5" text-anchor="end" fill="#000" stroke="#000" stroke-width="0.12">25</text>
<line x1="214.10" y1="221.38" x2="216.40" y2="221.38" stroke="#000" stroke-width="0.7"/>
<text x="213.4" y="222.97500000000002" font-size="4.5" text-anchor="end" fill="#000" stroke="#000" stroke-width="0.12">30</text>
<line x1="214.10" y1="211.09" x2="216.40" y2="211.09" stroke="#000" stroke-width="0.7"/>
<text x="213.4" y="212.68750000000003" font-size="4.5" text-anchor="end" fill="#000" stroke="#000" stroke-width="0.12">35</text>
<line x1="214.10" y1="200.80" x2="216.40" y2="200.80" stroke="#000" stroke-width="0.7"/>
<text x="213.4" y="202.4" font-size="4.5" text-anchor="end" fill="#000" stroke="#000" stroke-width="0.12">40</text>
<text x="200.6" y="236.7" font-size="6.9" font-weight="bold" text-anchor="middle" transform="rotate(-90 200.6 236.7)" fill="#000">arbitrary units</text>
<line x1="233.15" y1="216.03" x2="233.15" y2="210.06" stroke="#000" stroke-width="0.85"/>
<line x1="231.65" y1="210.06" x2="234.65" y2="210.06" stroke="#000" stroke-width="0.85"/>
<rect x="226.70" y="216.03" width="12.90" height="67.07" fill="#000"/>
<line x1="263.65" y1="215.41" x2="263.65" y2="208.00" stroke="#000" stroke-width="0.85"/>
<line x1="262.15" y1="208.00" x2="265.15" y2="208.00" stroke="#000" stroke-width="0.85"/>
<rect x="257.20" y="215.41" width="12.90" height="67.69" fill="#000"/>
<line x1="293.65" y1="253.27" x2="293.65" y2="234.34" stroke="#000" stroke-width="0.85"/>
<line x1="292.15" y1="234.34" x2="295.15" y2="234.34" stroke="#000" stroke-width="0.85"/>
<rect x="287.20" y="253.27" width="12.90" height="29.83" fill="#000"/>
<line x1="324.15" y1="279.40" x2="324.15" y2="276.52" stroke="#000" stroke-width="0.85"/>
<line x1="322.65" y1="276.52" x2="325.65" y2="276.52" stroke="#000" stroke-width="0.85"/>
<rect x="317.70" y="279.40" width="12.90" height="3.70" fill="#000"/>
<line x1="354.25" y1="276.93" x2="354.25" y2="273.84" stroke="#000" stroke-width="0.85"/>
<line x1="352.75" y1="273.84" x2="355.75" y2="273.84" stroke="#000" stroke-width="0.85"/>
<rect x="347.80" y="276.93" width="12.90" height="6.17" fill="#000"/>
<text x="293.5" y="229.70000000000002" font-size="6" font-weight="bold" text-anchor="middle" fill="#000" stroke="#000" stroke-width="0.3">*</text>
<text x="324" y="273.2" font-size="6" font-weight="bold" text-anchor="middle" fill="#000" stroke="#000" stroke-width="0.3">*</text>
<text x="353.9" y="270.8" font-size="6" font-weight="bold" text-anchor="middle" fill="#000" stroke="#000" stroke-width="0.3">*</text>
<text x="233.2" y="292.8" font-size="5.0" text-anchor="middle" fill="#000" stroke="#000" stroke-width="0.18">-</text>
<text x="263.8" y="292.8" font-size="5.0" text-anchor="middle" fill="#000" stroke="#000" stroke-width="0.18">0.01</text>
<text x="294" y="292.8" font-size="5.0" text-anchor="middle" fill="#000" stroke="#000" stroke-width="0.18">0.1</text>
<text x="324.3" y="292.8" font-size="5.0" text-anchor="middle" fill="#000" stroke="#000" stroke-width="0.18">1</text>
<text x="355.2" y="292.8" font-size="5.0" text-anchor="middle" fill="#000" stroke="#000" stroke-width="0.18">10</text>
<text x="310.2" y="304.5" font-size="7.0" font-weight="bold" text-anchor="middle" fill="#000" stroke="#000" stroke-width="0.05">IL-3 (ng/mL)</text>
<line x1="258.70" y1="302.00" x2="287.50" y2="302.00" stroke="#555" stroke-width="0.9"/>
<line x1="333.70" y1="302.00" x2="361.30" y2="302.00" stroke="#555" stroke-width="0.9"/>
<line x1="42.40" y1="110.60" x2="42.40" y2="112.00" stroke="#000" stroke-width="0.7"/>
<line x1="63.80" y1="110.60" x2="63.80" y2="112.00" stroke="#000" stroke-width="0.7"/>
<line x1="85.20" y1="110.60" x2="85.20" y2="112.00" stroke="#000" stroke-width="0.7"/>
<line x1="106.60" y1="110.60" x2="106.60" y2="112.00" stroke="#000" stroke-width="0.7"/>
<line x1="128.00" y1="110.60" x2="128.00" y2="112.00" stroke="#000" stroke-width="0.7"/>
<line x1="149.40" y1="110.60" x2="149.40" y2="112.00" stroke="#000" stroke-width="0.7"/>
<line x1="228.60" y1="110.00" x2="228.60" y2="111.40" stroke="#000" stroke-width="0.7"/>
<line x1="249.80" y1="110.00" x2="249.80" y2="111.40" stroke="#000" stroke-width="0.7"/>
<line x1="271.00" y1="110.00" x2="271.00" y2="111.40" stroke="#000" stroke-width="0.7"/>
<line x1="292.20" y1="110.00" x2="292.20" y2="111.40" stroke="#000" stroke-width="0.7"/>
<line x1="313.40" y1="110.00" x2="313.40" y2="111.40" stroke="#000" stroke-width="0.7"/>
<line x1="334.60" y1="110.00" x2="334.60" y2="111.40" stroke="#000" stroke-width="0.7"/>
<line x1="408.80" y1="111.10" x2="408.80" y2="112.50" stroke="#000" stroke-width="0.7"/>
<line x1="430.85" y1="111.10" x2="430.85" y2="112.50" stroke="#000" stroke-width="0.7"/>
<line x1="452.90" y1="111.10" x2="452.90" y2="112.50" stroke="#000" stroke-width="0.7"/>
<line x1="474.95" y1="111.10" x2="474.95" y2="112.50" stroke="#000" stroke-width="0.7"/>
<line x1="497.00" y1="111.10" x2="497.00" y2="112.50" stroke="#000" stroke-width="0.7"/>
<line x1="519.05" y1="111.10" x2="519.05" y2="112.50" stroke="#000" stroke-width="0.7"/>
<line x1="248.30" y1="283.30" x2="248.30" y2="284.70" stroke="#000" stroke-width="0.7"/>
<line x1="278.60" y1="283.30" x2="278.60" y2="284.70" stroke="#000" stroke-width="0.7"/>
<line x1="308.90" y1="283.30" x2="308.90" y2="284.70" stroke="#000" stroke-width="0.7"/>
<line x1="339.20" y1="283.30" x2="339.20" y2="284.70" stroke="#000" stroke-width="0.7"/>
<line x1="369.50" y1="283.30" x2="369.50" y2="284.70" stroke="#000" stroke-width="0.7"/>
<line x1="161.50" y1="215.50" x2="161.50" y2="216.60" stroke="#000" stroke-width="0.6"/>
<line x1="179.30" y1="215.50" x2="179.30" y2="216.60" stroke="#000" stroke-width="0.6"/>
<line x1="160.10" y1="298.20" x2="160.10" y2="299.30" stroke="#000" stroke-width="0.6"/>
<line x1="178.60" y1="298.20" x2="178.60" y2="299.30" stroke="#000" stroke-width="0.6"/>
</g>
<g filter="url(#hs)">
<clipPath id="c1"><rect x="131.65" y="92.35" width="14.00" height="18.05"/></clipPath>
<rect x="131.65" y="92.35" width="14.00" height="18.05" fill="#fff"/>
<path clip-path="url(#c1)" d="M110.90 92.35l18.05 18.05M113.60 92.35l18.05 18.05M116.30 92.35l18.05 18.05M119.00 92.35l18.05 18.05M121.70 92.35l18.05 18.05M124.40 92.35l18.05 18.05M127.10 92.35l18.05 18.05M129.80 92.35l18.05 18.05M132.50 92.35l18.05 18.05M135.20 92.35l18.05 18.05M137.90 92.35l18.05 18.05M140.60 92.35l18.05 18.05M143.30 92.35l18.05 18.05M146.00 92.35l18.05 18.05" stroke="#000" stroke-width="1.0" fill="none"/>
<rect x="131.65" y="92.35" width="14.00" height="18.05" fill="none" stroke="#000" stroke-width="0.85"/>
<clipPath id="c2"><rect x="153.05" y="33.55" width="14.00" height="76.85"/></clipPath>
<rect x="153.05" y="33.55" width="14.00" height="76.85" fill="#fff"/>
<path clip-path="url(#c2)" d="M73.50 33.55l76.85 76.85M76.20 33.55l76.85 76.85M78.90 33.55l76.85 76.85M81.60 33.55l76.85 76.85M84.30 33.55l76.85 76.85M87.00 33.55l76.85 76.85M89.70 33.55l76.85 76.85M92.40 33.55l76.85 76.85M95.10 33.55l76.85 76.85M97.80 33.55l76.85 76.85M100.50 33.55l76.85 76.85M103.20 33.55l76.85 76.85M105.90 33.55l76.85 76.85M108.60 33.55l76.85 76.85M111.30 33.55l76.85 76.85M114.00 33.55l76.85 76.85M116.70 33.55l76.85 76.85M119.40 33.55l76.85 76.85M122.10 33.55l76.85 76.85M124.80 33.55l76.85 76.85M127.50 33.55l76.85 76.85M130.20 33.55l76.85 76.85M132.90 33.55l76.85 76.85M135.60 33.55l76.85 76.85M138.30 33.55l76.85 76.85M141.00 33.55l76.85 76.85M143.70 33.55l76.85 76.85M146.40 33.55l76.85 76.85M149.10 33.55l76.85 76.85M151.80 33.55l76.85 76.85M154.50 33.55l76.85 76.85M157.20 33.55l76.85 76.85M159.90 33.55l76.85 76.85M162.60 33.55l76.85 76.85M165.30 33.55l76.85 76.85M168.00 33.55l76.85 76.85" stroke="#000" stroke-width="1.0" fill="none"/>
<rect x="153.05" y="33.55" width="14.00" height="76.85" fill="none" stroke="#000" stroke-width="0.85"/>
<clipPath id="c3"><rect x="338.55" y="45.40" width="14.00" height="64.40"/></clipPath>
<rect x="338.55" y="45.40" width="14.00" height="64.40" fill="#fff"/>
<path clip-path="url(#c3)" d="M271.45 45.40l64.40 64.40M274.15 45.40l64.40 64.40M276.85 45.40l64.40 64.40M279.55 45.40l64.40 64.40M282.25 45.40l64.40 64.40M284.95 45.40l64.40 64.40M287.65 45.40l64.40 64.40M290.35 45.40l64.40 64.40M293.05 45.40l64.40 64.40M295.75 45.40l64.40 64.40M298.45 45.40l64.40 64.40M301.15 45.40l64.40 64.40M303.85 45.40l64.40 64.40M306.55 45.40l64.40 64.40M309.25 45.40l64.40 64.40M311.95 45.40l64.40 64.40M314.65 45.40l64.40 64.40M317.35 45.40l64.40 64.40M320.05 45.40l64.40 64.40M322.75 45.40l64.40 64.40M325.45 45.40l64.40 64.40M328.15 45.40l64.40 64.40M330.85 45.40l64.40 64.40M333.55 45.40l64.40 64.40M336.25 45.40l64.40 64.40M338.95 45.40l64.40 64.40M341.65 45.40l64.40 64.40M344.35 45.40l64.40 64.40M347.05 45.40l64.40 64.40M349.75 45.40l64.40 64.40M352.45 45.40l64.40 64.40M355.15 45.40l64.40 64.40" stroke="#000" stroke-width="1.0" fill="none"/>
<rect x="338.55" y="45.40" width="14.00" height="64.40" fill="none" stroke="#000" stroke-width="0.85"/>
<clipPath id="c4"><rect x="398.15" y="60.20" width="6.80" height="50.70"/></clipPath>
<rect x="398.15" y="60.20" width="6.80" height="50.70" fill="#fff"/>
<path clip-path="url(#c4)" d="M344.75 60.20l50.70 50.70M347.45 60.20l50.70 50.70M350.15 60.20l50.70 50.70M352.85 60.20l50.70 50.70M355.55 60.20l50.70 50.70M358.25 60.20l50.70 50.70M360.95 60.20l50.70 50.70M363.65 60.20l50.70 50.70M366.35 60.20l50.70 50.70M369.05 60.20l50.70 50.70M371.75 60.20l50.70 50.70M374.45 60.20l50.70 50.70M377.15 60.20l50.70 50.70M379.85 60.20l50.70 50.70M382.55 60.20l50.70 50.70M385.25 60.20l50.70 50.70M387.95 60.20l50.70 50.70M390.65 60.20l50.70 50.70M393.35 60.20l50.70 50.70M396.05 60.20l50.70 50.70M398.75 60.20l50.70 50.70M401.45 60.20l50.70 50.70M404.15 60.20l50.70 50.70M406.85 60.20l50.70 50.70" stroke="#000" stroke-width="1.0" fill="none"/>
<rect x="398.15" y="60.20" width="6.80" height="50.70" fill="none" stroke="#000" stroke-width="0.85"/>
<clipPath id="c5"><rect x="420.15" y="68.11" width="6.80" height="42.79"/></clipPath>
<rect x="420.15" y="68.11" width="6.80" height="42.79" fill="#fff"/>
<path clip-path="url(#c5)" d="M374.66 68.11l42.79 42.79M377.36 68.11l42.79 42.79M380.06 68.11l42.79 42.79M382.76 68.11l42.79 42.79M385.46 68.11l42.79 42.79M388.16 68.11l42.79 42.79M390.86 68.11l42.79 42.79M393.56 68.11l42.79 42.79M396.26 68.11l42.79 42.79M398.96 68.11l42.79 42.79M401.66 68.11l42.79 42.79M404.36 68.11l42.79 42.79M407.06 68.11l42.79 42.79M409.76 68.11l42.79 42.79M412.46 68.11l42.79 42.79M415.16 68.11l42.79 42.79M417.86 68.11l42.79 42.79M420.56 68.11l42.79 42.79M423.26 68.11l42.79 42.79M425.96 68.11l42.79 42.79M428.66 68.11l42.79 42.79" stroke="#000" stroke-width="1.0" fill="none"/>
<rect x="420.15" y="68.11" width="6.80" height="42.79" fill="none" stroke="#000" stroke-width="0.85"/>
<clipPath id="c6"><rect x="442.15" y="81.05" width="6.80" height="29.85"/></clipPath>
<rect x="442.15" y="81.05" width="6.80" height="29.85" fill="#fff"/>
<path clip-path="url(#c6)" d="M409.60 81.05l29.85 29.85M412.30 81.05l29.85 29.85M415.00 81.05l29.85 29.85M417.70 81.05l29.85 29.85M420.40 81.05l29.85 29.85M423.10 81.05l29.85 29.85M425.80 81.05l29.85 29.85M428.50 81.05l29.85 29.85M431.20 81.05l29.85 29.85M433.90 81.05l29.85 29.85M436.60 81.05l29.85 29.85M439.30 81.05l29.85 29.85M442.00 81.05l29.85 29.85M444.70 81.05l29.85 29.85M447.40 81.05l29.85 29.85M450.10 81.05l29.85 29.85" stroke="#000" stroke-width="1.0" fill="none"/>
<rect x="442.15" y="81.05" width="6.80" height="29.85" fill="none" stroke="#000" stroke-width="0.85"/>
<clipPath id="c7"><rect x="464.25" y="99.39" width="6.80" height="11.51"/></clipPath>
<rect x="464.25" y="99.39" width="6.80" height="11.51" fill="#fff"/>
<path clip-path="url(#c7)" d="M450.04 99.39l11.51 11.51M452.74 99.39l11.51 11.51M455.44 99.39l11.51 11.51M458.14 99.39l11.51 11.51M460.84 99.39l11.51 11.51M463.54 99.39l11.51 11.51M466.24 99.39l11.51 11.51M468.94 99.39l11.51 11.51M471.64 99.39l11.51 11.51" stroke="#000" stroke-width="1.0" fill="none"/>
<rect x="464.25" y="99.39" width="6.80" height="11.51" fill="none" stroke="#000" stroke-width="0.85"/>
<clipPath id="c8"><rect x="486.35" y="104.78" width="6.80" height="6.12"/></clipPath>
<rect x="486.35" y="104.78" width="6.80" height="6.12" fill="#fff"/>
<path clip-path="url(#c8)" d="M477.53 104.78l6.12 6.12M480.23 104.78l6.12 6.12M482.93 104.78l6.12 6.12M485.63 104.78l6.12 6.12M488.33 104.78l6.12 6.12M491.03 104.78l6.12 6.12M493.73 104.78l6.12 6.12" stroke="#000" stroke-width="1.0" fill="none"/>
<rect x="486.35" y="104.78" width="6.80" height="6.12" fill="none" stroke="#000" stroke-width="0.85"/>
<clipPath id="c9"><rect x="508.35" y="54.45" width="7.00" height="56.45"/></clipPath>
<rect x="508.35" y="54.45" width="7.00" height="56.45" fill="#fff"/>
<path clip-path="url(#c9)" d="M449.20 54.45l56.45 56.45M451.90 54.45l56.45 56.45M454.60 54.45l56.45 56.45M457.30 54.45l56.45 56.45M460.00 54.45l56.45 56.45M462.70 54.45l56.45 56.45M465.40 54.45l56.45 56.45M468.10 54.45l56.45 56.45M470.80 54.45l56.45 56.45M473.50 54.45l56.45 56.45M476.20 54.45l56.45 56.45M478.90 54.45l56.45 56.45M481.60 54.45l56.45 56.45M484.30 54.45l56.45 56.45M487.00 54.45l56.45 56.45M489.70 54.45l56.45 56.45M492.40 54.45l56.45 56.45M495.10 54.45l56.45 56.45M497.80 54.45l56.45 56.45M500.50 54.45l56.45 56.45M503.20 54.45l56.45 56.45M505.90 54.45l56.45 56.45M508.60 54.45l56.45 56.45M511.30 54.45l56.45 56.45M514.00 54.45l56.45 56.45M516.70 54.45l56.45 56.45" stroke="#000" stroke-width="1.0" fill="none"/>
<rect x="508.35" y="54.45" width="7.00" height="56.45" fill="none" stroke="#000" stroke-width="0.85"/>
<clipPath id="c10"><rect x="163.75" y="197.72" width="12.50" height="17.58"/></clipPath>
<rect x="163.75" y="197.72" width="12.50" height="17.58" fill="#fff"/>
<path clip-path="url(#c10)" d="M143.47 197.72l17.58 17.58M146.17 197.72l17.58 17.58M148.87 197.72l17.58 17.58M151.57 197.72l17.58 17.58M154.27 197.72l17.58 17.58M156.97 197.72l17.58 17.58M159.67 197.72l17.58 17.58M162.37 197.72l17.58 17.58M165.07 197.72l17.58 17.58M167.77 197.72l17.58 17.58M170.47 197.72l17.58 17.58M173.17 197.72l17.58 17.58M175.87 197.72l17.58 17.58M178.57 197.72l17.58 17.58" stroke="#000" stroke-width="1.0" fill="none"/>
<rect x="163.75" y="197.72" width="12.50" height="17.58" fill="none" stroke="#000" stroke-width="0.85"/>
<clipPath id="c11"><rect x="162.35" y="266.58" width="11.50" height="31.42"/></clipPath>
<rect x="162.35" y="266.58" width="11.50" height="31.42" fill="#fff"/>
<path clip-path="url(#c11)" d="M128.23 266.58l31.42 31.42M130.93 266.58l31.42 31.42M133.63 266.58l31.42 31.42M136.33 266.58l31.42 31.42M139.03 266.58l31.42 31.42M141.73 266.58l31.42 31.42M144.43 266.58l31.42 31.42M147.13 266.58l31.42 31.42M149.83 266.58l31.42 31.42M152.53 266.58l31.42 31.42M155.23 266.58l31.42 31.42M157.93 266.58l31.42 31.42M160.63 266.58l31.42 31.42M163.33 266.58l31.42 31.42M166.03 266.58l31.42 31.42M168.73 266.58l31.42 31.42M171.43 266.58l31.42 31.42M174.13 266.58l31.42 31.42" stroke="#000" stroke-width="1.0" fill="none"/>
<rect x="162.35" y="266.58" width="11.50" height="31.42" fill="none" stroke="#000" stroke-width="0.85"/>
</g>
</svg>
</body></html>
